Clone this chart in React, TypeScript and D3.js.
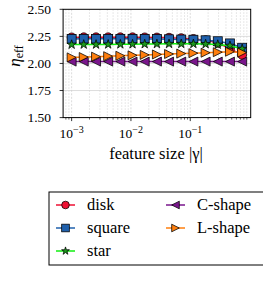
import React, { useEffect, useRef } from "react";
import * as d3 from "d3";

// feature size |gamma|
const gamma = [0.001, 0.0016, 0.00258, 0.00413, 0.00663, 0.01064, 0.01707, 0.0274, 0.0439, 0.0705, 0.113, 0.1815, 0.291, 0.467, 0.75];

const disk = [2.24, 2.241, 2.241, 2.241, 2.241, 2.241, 2.24, 2.239, 2.237, 2.233, 2.226, 2.214, 2.19, 2.135, 2.08];
const square = [2.226, 2.227, 2.227, 2.227, 2.227, 2.227, 2.226, 2.225, 2.223, 2.221, 2.219, 2.214, 2.205, 2.185, 2.145];
const star = [2.174, 2.175, 2.175, 2.176, 2.177, 2.178, 2.179, 2.18, 2.181, 2.181, 2.181, 2.179, 2.174, 2.164, 2.135];
const cshape = [2.017, 2.017, 2.017, 2.017, 2.017, 2.017, 2.017, 2.017, 2.017, 2.017, 2.017, 2.017, 2.017, 2.017, 2.017];
const lshape = [2.056, 2.059, 2.063, 2.067, 2.071, 2.075, 2.079, 2.083, 2.087, 2.091, 2.095, 2.099, 2.104, 2.108, 2.1];

const yTicks = [1.5, 1.75, 2.0, 2.25, 2.5];
const xTicks = [1e-3, 1e-2, 1e-1];
const xTickExp = ["\u22123", "\u22122", "\u22121"];

const series = [
  { name: "disk", values: disk, color: "#ee1133", marker: "circle" },
  { name: "square", values: square, color: "#1f60ac", marker: "square" },
  { name: "star", values: star, color: "#11ee11", marker: "star" },
  { name: "C-shape", values: cshape, color: "#7a168c", marker: "left" },
  { name: "L-shape", values: lshape, color: "#ff7f0e", marker: "right" },
];

const FONT = "'Liberation Serif', 'DejaVu Serif', serif";

const drawMarker = (g, type, color, k = 1) => {
  const h = 4.5 * k;
  if (type === "circle") {
    g.append("circle").attr("r", h);
  } else if (type === "square") {
    g.append("rect").attr("x", -h).attr("y", -h).attr("width", 2 * h).attr("height", 2 * h);
  } else if (type === "star") {
    g.append("path").attr("d", d3.symbol(d3.symbolStar, 26 * k * k)());
  } else if (type === "left") {
    g.append("path").attr("d", `M${h},${-h}L${-h},0L${h},${h}Z`);
  } else {
    g.append("path").attr("d", `M${-h},${-h}L${h},0L${-h},${h}Z`);
  }
  g.selectAll("*")
    .attr("fill", type === "star" ? "#1c9a1c" : color)
    .attr("stroke", "#000")
    .attr("stroke-width", 0.75);
};

const App = () => {
  const ref = useRef(null);

  useEffect(() => {
    const svg = d3.select(ref.current);
    svg.selectAll("*").remove();

    const left = 63.1, right = 250.7, top = 9.3, bottom = 117.6;
    const x = d3.scaleLog().domain([7.18e-4, 1.045]).range([left, right]);
    const y = d3.scaleLinear().domain([1.5, 2.5]).range([bottom, top]);

    const minor = [];
    for (let e = -4; e <= 0; e++) {
      for (let m = 2; m <= 9; m++) {
        const v = m * Math.pow(10, e);
        if (v > x.domain()[0] && v < x.domain()[1]) minor.push(v);
      }
    }

    // grid
    const grid = svg.append("g");
    grid.selectAll(".vmin").data(minor).join("line")
      .attr("x1", (d) => x(d)).attr("x2", (d) => x(d))
      .attr("y1", top).attr("y2", bottom)
      .attr("stroke", "#d4d4d4").attr("stroke-width", 0.7)
      .attr("stroke-dasharray", "1.5,1.5");
    grid.selectAll(".vmaj").data(xTicks).join("line")
      .attr("x1", (d) => x(d)).attr("x2", (d) => x(d))
      .attr("y1", top).attr("y2", bottom)
      .attr("stroke", "#cccccc").attr("stroke-width", 0.7)
      .attr("stroke-dasharray", "2,1.5");
    grid.selectAll(".h").data(yTicks.slice(1, -1)).join("line")
      .attr("x1", left).attr("x2", right)
      .attr("y1", (d) => y(d)).attr("y2", (d) => y(d))
      .attr("stroke", "#d0d0d0").attr("stroke-width", 0.7);

    // series
    const line = d3.line().x((d, i) => x(gamma[i])).y((d) => y(d));
    series.forEach((s) => {
      const g = svg.append("g");
      g.append("path").attr("d", line(s.values))
        .attr("fill", "none").attr("stroke", s.color).attr("stroke-width", 1.5);
      s.values.forEach((v, i) => {
        const m = g.append("g").attr("transform", `translate(${x(gamma[i])},${y(v)})`);
        drawMarker(m, s.marker, s.color);
      });
    });

    // frame
    svg.append("rect")
      .attr("x", left).attr("y", top)
      .attr("width", right - left).attr("height", bottom - top)
      .attr("fill", "none").attr("stroke", "#000").attr("stroke-width", 1);

    // y axis
    const ya = svg.append("g");
    ya.selectAll("line").data(yTicks).join("line")
      .attr("x1", left - 3.5).attr("x2", left)
      .attr("y1", (d) => y(d)).attr("y2", (d) => y(d))
      .attr("stroke", "#000").attr("stroke-width", 0.8);
    ya.selectAll("text").data(yTicks).join("text")
      .attr("x", 51).attr("y", (d) => y(d) + 4.3)
      .attr("text-anchor", "end")
      .attr("font-family", FONT).attr("font-size", 13.5)
      .text((d) => d3.format(".2f")(d));

    // x axis
    const xa = svg.append("g");
    xa.selectAll(".maj").data(xTicks).join("line")
      .attr("x1", (d) => x(d)).attr("x2", (d) => x(d))
      .attr("y1", bottom).attr("y2", bottom + 3.5)
      .attr("stroke", "#000").attr("stroke-width", 0.8);
    xa.selectAll(".min").data(minor).join("line")
      .attr("x1", (d) => x(d)).attr("x2", (d) => x(d))
      .attr("y1", bottom).attr("y2", bottom + 2)
      .attr("stroke", "#000").attr("stroke-width", 0.6);
    xTicks.forEach((t, i) => {
      const tx = xa.append("text")
        .attr("x", x(t)).attr("y", 138)
        .attr("text-anchor", "middle")
        .attr("font-family", FONT).attr("font-size", 13.5);
      tx.append("tspan").text("10");
      tx.append("tspan").attr("font-size", 10).attr("dy", -5.5).text(xTickExp[i]);
    });

    // labels
    svg.append("text")
      .attr("x", 156).attr("y", 159)
      .attr("text-anchor", "middle")
      .attr("font-family", FONT).attr("font-size", 16.5)
      .text("feature size |\u03b3|");

    const yl = svg.append("text")
      .attr("transform", "translate(20,56) rotate(-90)")
      .attr("text-anchor", "middle")
      .attr("font-family", FONT).attr("font-size", 17);
    yl.append("tspan").attr("font-style", "italic").text("\u03b7");
    yl.append("tspan").attr("font-size", 12).attr("dy", 3).text("eff");

    // legend
    const lg = svg.append("g");
    lg.append("rect")
      .attr("x", 49).attr("y", 192).attr("width", 220).attr("height", 73)
      .attr("fill", "#fff").attr("stroke", "#000").attr("stroke-width", 1);
    series.forEach((s, i) => {
      const col = i < 3 ? 0 : 1;
      const row = i < 3 ? i : i - 3;
      const lx = col === 0 ? 56 : 166;
      const ly = 205 + row * 23;
      lg.append("line")
        .attr("x1", lx).attr("x2", lx + 19).attr("y1", ly).attr("y2", ly)
        .attr("stroke", s.color).attr("stroke-width", 1.5);
      const m = lg.append("g").attr("transform", `translate(${lx + 9.5},${ly})`);
      drawMarker(m, s.marker, s.color, 0.85);
      lg.append("text")
        .attr("x", lx + 31).attr("y", ly + 5)
        .attr("font-family", FONT).attr("font-size", 16.5)
        .text(s.name);
    });
  }, []);

  return (
    <svg
      ref={ref}
      width={263}
      height={288}
      style={{ position: "absolute", left: 0, top: 0, background: "#fff" }}
    ></svg>
  );
};

export default App;
